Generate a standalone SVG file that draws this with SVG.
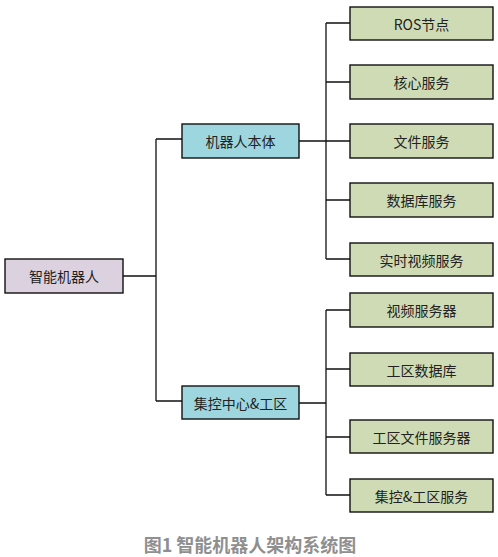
<svg xmlns="http://www.w3.org/2000/svg" width="498" height="557" viewBox="0 0 498 557">
<style>
.box{stroke:#111;stroke-width:1.4}
.root{fill:#DCD1DF}
.mid{fill:#9DD6DE}
.leaf{fill:#CEDBB4}
.t{font-family:"Noto Sans CJK SC","Liberation Serif",sans-serif;font-size:14px;fill:#222;text-anchor:middle;dominant-baseline:central}
.c{fill:none;stroke:#111;stroke-width:1.3}
.cap{font-family:"Noto Sans CJK SC","Liberation Sans",sans-serif;font-size:18px;font-weight:bold;fill:#8f8f8f;text-anchor:middle}
</style>
<rect width="498" height="557" fill="#fff"/>
<g id="connectors">
<path class="c" d="M123 276H156M156 139V401M156 139H182M156 401H182"/>
<path class="c" d="M299 141H326M326 23V259M326 23H350M326 82H350M326 141H350M326 200H350M326 259H350"/>
<path class="c" d="M299 403H326M326 310V495M326 310H350M326 369H350M326 437H350M326 495H350"/>
</g>
<g id="root"><rect class="box root" x="5" y="259" width="118" height="34"/><text class="t" x="64" y="276">智能机器人</text></g>
<g id="body"><rect class="box mid" x="182" y="124" width="117" height="34"/><text class="t" x="240.5" y="141">机器人本体</text></g>
<g id="center"><rect class="box mid" x="182" y="386" width="117" height="33"/><text class="t" x="240.5" y="403">集控中心&amp;工区</text></g>
<g id="ros"><rect class="box leaf" x="350" y="7" width="143" height="33"/><text class="t" x="421.5" y="23.5">ROS节点</text></g>
<g id="core"><rect class="box leaf" x="350" y="65" width="143" height="34"/><text class="t" x="421.5" y="82">核心服务</text></g>
<g id="file"><rect class="box leaf" x="350" y="124" width="143" height="34"/><text class="t" x="421.5" y="141">文件服务</text></g>
<g id="db"><rect class="box leaf" x="350" y="183" width="143" height="34"/><text class="t" x="421.5" y="200">数据库服务</text></g>
<g id="rtvideo"><rect class="box leaf" x="350" y="243" width="143" height="33"/><text class="t" x="421.5" y="259.5">实时视频服务</text></g>
<g id="videosrv"><rect class="box leaf" x="350" y="293" width="143" height="34"/><text class="t" x="421.5" y="310">视频服务器</text></g>
<g id="workdb"><rect class="box leaf" x="350" y="353" width="143" height="33"/><text class="t" x="421.5" y="369.5">工区数据库</text></g>
<g id="workfile"><rect class="box leaf" x="350" y="420" width="143" height="33"/><text class="t" x="421.5" y="436.5">工区文件服务器</text></g>
<g id="ctrlsrv"><rect class="box leaf" x="350" y="479" width="143" height="33"/><text class="t" x="421.5" y="495.5">集控&amp;工区服务</text></g>
<text class="cap" x="250" y="552">图1 智能机器人架构系统图</text>
</svg>
